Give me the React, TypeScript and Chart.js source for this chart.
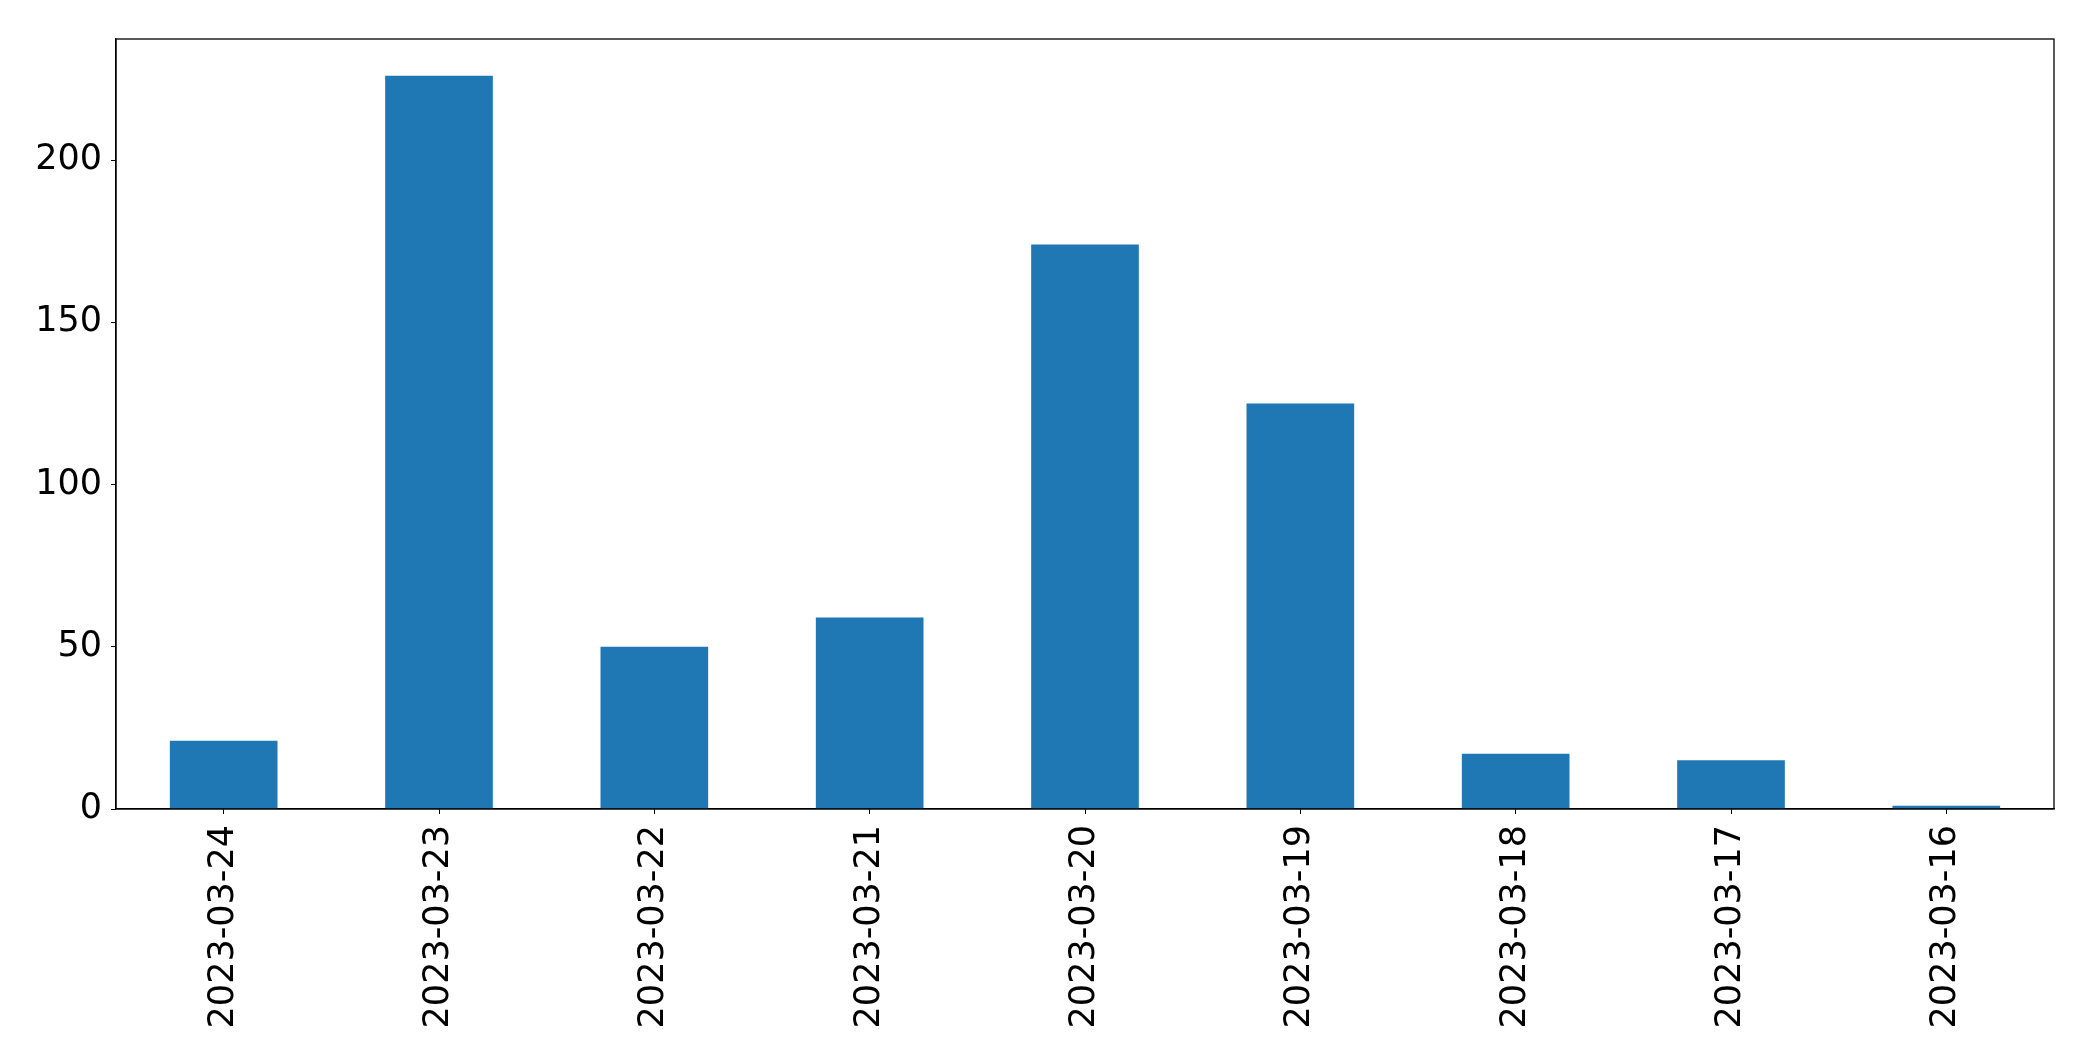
import React, { useEffect, useRef } from "react";
import { Chart, registerables } from "chart.js";

Chart.register(...registerables);

const categories = [
  "2023-03-24",
  "2023-03-23",
  "2023-03-22",
  "2023-03-21",
  "2023-03-20",
  "2023-03-19",
  "2023-03-18",
  "2023-03-17",
  "2023-03-16",
];
const counts = [21, 226, 50, 59, 174, 125, 17, 15, 1];
const yTicks = [0, 50, 100, 150, 200];
const yMax = 237.3;

const W = 2093;
const H = 1061;
const LEFT = 116;
const TOP = 39;
const RIGHT = 2054;
const BOTTOM = 809;

const frame = {
  id: "frame",
  afterDraw(chart: any) {
    const { ctx, chartArea } = chart;
    ctx.save();
    ctx.strokeStyle = "#000";
    ctx.lineWidth = 1.3;
    ctx.strokeRect(chartArea.left, chartArea.top, chartArea.right - chartArea.left, chartArea.bottom - chartArea.top);
    ctx.restore();
  },
};

export default function App() {
  const ref = useRef<HTMLCanvasElement>(null);
  useEffect(() => {
    document.body.style.margin = "0";
    const chart = new Chart(ref.current!, {
      type: "bar",
      data: {
        labels: categories,
        datasets: [
          {
            data: counts,
            backgroundColor: "#1f77b4",
            categoryPercentage: 1,
            barPercentage: 0.5,
          },
        ],
      },
      options: {
        animation: false,
        responsive: false,
        devicePixelRatio: 1,
        layout: { padding: { top: TOP, right: W - RIGHT, left: 0, bottom: 0 } },
        plugins: { legend: { display: false }, tooltip: { enabled: false } },
        scales: {
          x: {
            offset: true,
            grid: { display: true, drawOnChartArea: false, drawTicks: true, tickLength: 5, tickColor: "#000", offset: false },
            border: { display: true, color: "#000", width: 1.3 },
            ticks: {
              color: "#000",
              font: { family: "DejaVu Sans", size: 35 },
              maxRotation: 90,
              minRotation: 90,
              padding: 11,
              autoSkip: false,
            },
            afterFit(scale: any) {
              scale.height = H - BOTTOM;
            },
          },
          y: {
            min: 0,
            max: yMax,
            grid: { display: true, drawOnChartArea: false, drawTicks: true, tickLength: 5, tickColor: "#000" },
            border: { display: true, color: "#000", width: 1.3 },
            ticks: {
              color: "#000",
              font: { family: "DejaVu Sans", size: 35 },
              padding: 9,
            },
            afterBuildTicks(scale: any) {
              scale.ticks = yTicks.map((v) => ({ value: v }));
            },
            afterFit(scale: any) {
              scale.width = LEFT;
            },
          },
        },
      },
      plugins: [frame],
    });
    return () => chart.destroy();
  }, []);
  return (
    <div style={{ position: "absolute", left: 0, top: 0, width: W, height: H, background: "#fff" }}>
      <canvas ref={ref} width={W} height={H} style={{ width: W, height: H, display: "block" }} />
    </div>
  );
}
